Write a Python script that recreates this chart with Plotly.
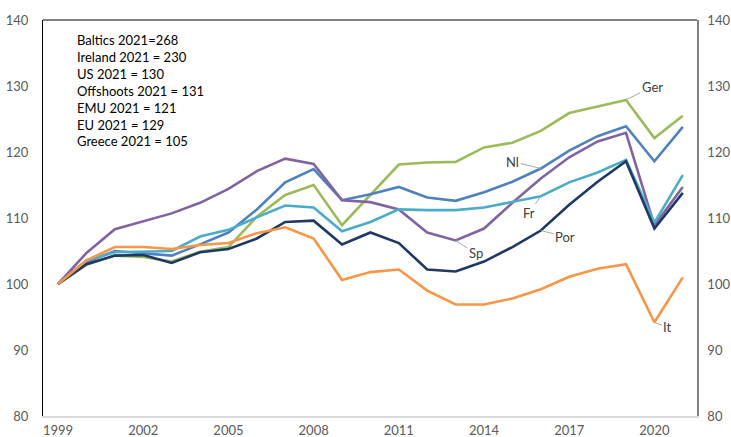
import plotly.graph_objects as go

# Real GDP per capita index, 1999 = 100
years = list(range(1999, 2022))

ger = [100, 102.9, 104.3, 104.1, 103.4, 104.9, 105.6, 110.2, 113.5, 115.0, 108.9, 113.5,
       118.1, 118.4, 118.5, 120.7, 121.4, 123.2, 125.9, 126.9, 127.9, 122.1, 125.5]
nl = [100, 103.3, 105.0, 104.7, 104.3, 106.0, 107.8, 111.3, 115.4, 117.4, 112.7, 113.6,
      114.7, 113.1, 112.6, 113.9, 115.5, 117.5, 120.2, 122.4, 123.9, 118.6, 123.8]
sp = [100, 104.7, 108.3, 109.5, 110.7, 112.3, 114.4, 117.1, 119.0, 118.2, 112.7, 112.4,
      111.3, 107.8, 106.6, 108.4, 112.3, 116.0, 119.2, 121.6, 122.9, 108.9, 114.7]
fr = [100, 103.6, 104.8, 104.9, 105.0, 107.2, 108.2, 110.1, 111.9, 111.6, 108.0, 109.4,
      111.3, 111.2, 111.2, 111.6, 112.4, 113.3, 115.4, 116.9, 118.8, 109.3, 116.5]
por = [100, 103.0, 104.3, 104.4, 103.2, 104.8, 105.3, 106.9, 109.4, 109.6, 106.0, 107.8,
       106.2, 102.2, 101.9, 103.4, 105.6, 108.1, 112.0, 115.5, 118.6, 108.4, 113.8]
it = [100, 103.6, 105.6, 105.6, 105.3, 105.9, 106.2, 107.7, 108.6, 106.9, 100.6, 101.8,
      102.2, 99.0, 96.9, 96.9, 97.8, 99.2, 101.1, 102.3, 103.0, 94.2, 101.0]

note_lines = ["Baltics 2021=268", "Ireland 2021 = 230", "US 2021 = 130", "Offshoots 2021 = 131",
              "EMU 2021 = 121", "EU 2021 = 129", "Greece 2021 = 105"]

series = [
    ("Ger", ger, "#9bbb59"),
    ("Nl", nl, "#4f81bd"),
    ("Sp", sp, "#8064a2"),
    ("Fr", fr, "#4bacc6"),
    ("Por", por, "#1f3864"),
    ("It", it, "#f79646"),
]

fig = go.Figure()
for name, vals, col in series:
    fig.add_trace(go.Scatter(x=years, y=vals, mode="lines", name=name,
                             line=dict(color=col, width=2.6)))

# dummy trace so the right-hand axis is drawn
fig.add_trace(go.Scatter(x=[years[0]], y=[100], yaxis="y2", mode="lines",
                         showlegend=False, hoverinfo="skip", line=dict(width=0)))

# series labels with leader lines: (text, year, value, ax, ay)
labels = [
    ("Ger", 2019, ger[20], 26, -13),
    ("Nl", 2016, nl[17], -28, -7),
    ("Fr", 2016, fr[17], -12, 17),
    ("Sp", 2013, sp[14], 20, 13),
    ("Por", 2016, por[17], 24, 6),
    ("It", 2020, it[21], 13, 5),
]
for txt, xx, yy, ax, ay in labels:
    fig.add_annotation(x=xx, y=yy, text=txt, showarrow=True, arrowhead=0,
                       arrowwidth=1, arrowcolor="#a6a6a6", ax=ax, ay=ay,
                       font=dict(size=13, color="#404040"))

fig.add_annotation(xref="paper", yref="paper", x=0.049, y=0.975, xanchor="left", yanchor="top",
                   text="<br>".join(note_lines), showarrow=False, align="left",
                   font=dict(size=13, color="#000000"))

# top border of plot area
fig.add_shape(type="line", xref="paper", yref="paper", x0=0, x1=1, y0=1, y1=1,
              line=dict(color="#000000", width=1.2))

tick_font = dict(family="Lato, Open Sans, sans-serif", size=13, color="#595959")

fig.update_layout(
    width=731, height=437,
    margin=dict(l=43, r=34, t=20, b=21),
    paper_bgcolor="white", plot_bgcolor="white",
    showlegend=False,
    font=dict(family="Lato, Open Sans, sans-serif"),
    xaxis=dict(range=[1998.47, 2021.5], tickvals=list(range(1999, 2021, 3)),
               showgrid=False, zeroline=False, showline=True, linecolor="#d9d9d9",
               linewidth=1.5, ticks="", tickfont=tick_font, ticklabelstandoff=2,
               automargin=False),
    yaxis=dict(range=[80, 140], tickvals=[80, 90, 100, 110, 120, 130, 140],
               showgrid=False, zeroline=False, showline=True, linecolor="#000000",
               linewidth=1.2, ticks="", tickfont=tick_font, ticklabelstandoff=11,
               automargin=False),
    yaxis2=dict(range=[80, 140], tickvals=[80, 90, 100, 110, 120, 130, 140],
                overlaying="y", side="right", showgrid=False, zeroline=False,
                showline=True, linecolor="#808080", linewidth=1.5, ticks="",
                tickfont=tick_font, ticklabelstandoff=6, automargin=False),
)

# drop the default 8px page margin so the figure sits at the window's corner
fig.write_html("out.html", config={"displayModeBar": False},
               post_script="document.body.style.margin='0';document.body.style.overflow='hidden';")
